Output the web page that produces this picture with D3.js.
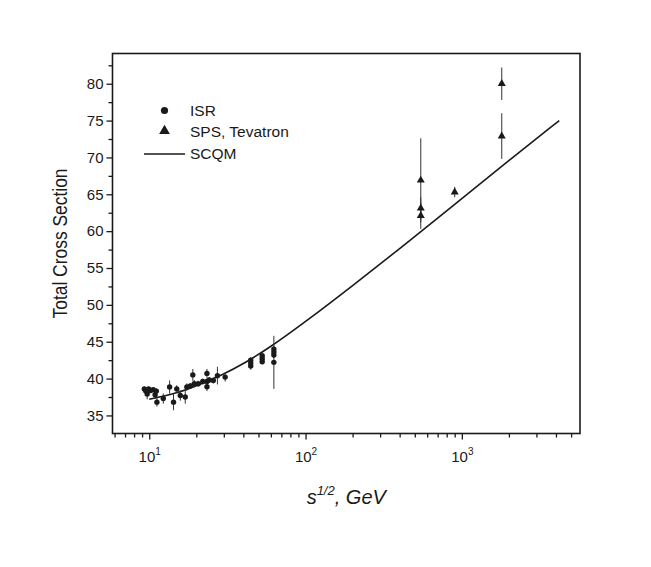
<!DOCTYPE html>
<html><head><meta charset="utf-8">
<script src="https://cdn.jsdelivr.net/npm/d3@7"></script>
<style>body{margin:0;background:#fff;} svg{display:block;font-family:"Liberation Sans",Arial,sans-serif;}</style>
</head><body>
<script>
// ISR data: [sqrt(s) GeV, sigma, error]
const isrData = [
  [9.3,38.6,0.3],[9.5,38.3,0.4],[9.7,37.9,0.7],[9.9,38.6,0.3],[10.2,38.4,0.4],
  [10.6,38.5,0.3],[10.9,37.8,0.5],[11.1,38.3,0.4],[11.2,36.8,0.6],[12.3,37.3,0.7],
  [13.5,38.85,0.9],[14.3,36.8,1.1],[15.0,38.6,0.5],[15.8,37.7,0.7],[17.0,37.5,0.9],
  [17.4,38.85,0.5],[18.3,39.0,0.4],[19.0,40.5,0.8],[19.4,39.3,0.5],[20.6,39.3,0.4],
  [22.0,39.6,0.4],[23.4,40.7,0.6],[23.4,39.6,0.4],[23.4,38.9,0.6],[24.2,39.8,0.4],
  [25.7,39.75,0.4],[27.3,40.4,1.2],[30.6,40.2,0.6],
  [44.6,41.7,0.5],[44.6,42.1,0.4],[44.6,42.5,0.4],
  [52.8,42.3,0.4],[52.8,42.7,0.4],[52.8,43.1,0.4],
  [62.7,42.2,3.6],[62.7,43.2,0.4],[62.7,43.6,0.4],[62.7,44.0,0.4]
];
// SPS, Tevatron data: [sqrt(s) GeV, sigma, error]
const spsData = [
  [546,66.9,5.7],[546,63.1,1.5],[546,62.1,1.8],
  [900,65.3,0.7],
  [1800,80.0,2.2],[1800,72.9,3.1]
];
// SCQM curve
const scqmE     = [10, 15, 20, 30, 40, 60, 100, 200, 400, 1000, 2000, 4200];
const scqmSigma = [37.2, 38.0, 39.0, 40.6, 42.0, 44.3, 47.7, 52.6, 57.6, 64.4, 69.6, 75.0];

const yTicksMajor = [35,40,45,50,55,60,65,70,75,80];
const yTicksMinor = [37.5,42.5,47.5,52.5,57.5,62.5,67.5,72.5,77.5,82.5];
const xTicksMajor = [10,100,1000];
const xTickExp = ["1","2","3"];
const xTicksMinor = [6,7,8,9,20,30,40,50,60,70,80,90,200,300,400,500,600,700,800,900,2000,3000,4000,5000];
const legendLabels = ["ISR","SPS, Tevatron","SCQM"];

const W=651,H=567;
const m={left:112.5,right:580,top:53.5,bottom:433.5};
const svg=d3.select("body").append("svg").attr("width",W).attr("height",H);
const x=d3.scaleLog().domain([5.82,5700]).range([m.left,m.right]);
const y=d3.scaleLinear().domain([32.55,84.1]).range([m.bottom,m.top]);
const ink="#1a1a1a";

// Axes
const xAxisMaj=d3.axisBottom(x).tickValues(xTicksMajor).tickSize(6).tickFormat("");
const xAxisMin=d3.axisBottom(x).tickValues(xTicksMinor).tickSize(4).tickFormat("");
const yAxisMaj=d3.axisLeft(y).tickValues(yTicksMajor).tickSize(6).tickPadding(3).tickFormat(d3.format("d"));
const yAxisMin=d3.axisLeft(y).tickValues(yTicksMinor).tickSize(4).tickFormat("");
function styleAx(g){g.select(".domain").remove();g.selectAll("line").attr("stroke",ink).attr("stroke-width",1.3);
  g.selectAll("text").attr("fill",ink).style("font-size","15px").style("font-family","Liberation Sans, Arial, sans-serif");}
svg.append("g").attr("transform",`translate(0,${m.bottom})`).call(xAxisMaj).call(styleAx);
svg.append("g").attr("transform",`translate(0,${m.bottom})`).call(xAxisMin).call(styleAx);
svg.append("g").attr("transform",`translate(${m.left},0)`).call(yAxisMaj).call(styleAx);
svg.append("g").attr("transform",`translate(${m.left},0)`).call(yAxisMin).call(styleAx);

// x tick labels with superscripts
xTicksMajor.forEach((v,i)=>{
  const t=svg.append("text").attr("x",x(v)+0.5).attr("y",m.bottom+28).attr("text-anchor","middle")
    .attr("fill",ink).style("font-size","15px");
  t.append("tspan").text("10");
  t.append("tspan").attr("dy",-7).style("font-size","10px").text(xTickExp[i]);
});

// frame
svg.append("rect").attr("x",m.left).attr("y",m.top).attr("width",m.right-m.left).attr("height",m.bottom-m.top)
  .attr("fill","none").attr("stroke",ink).attr("stroke-width",1.6);

// SCQM curve
const line=d3.line().x(d=>x(d[0])).y(d=>y(d[1])).curve(d3.curveBasis);
svg.append("path").datum(scqmE.map((e,i)=>[e,scqmSigma[i]])).attr("d",line)
  .attr("fill","none").attr("stroke",ink).attr("stroke-width",1.6);

// error bars
const allPts=isrData.concat(spsData);
svg.append("g").selectAll("line").data(allPts).join("line")
  .attr("x1",d=>x(d[0])).attr("x2",d=>x(d[0]))
  .attr("y1",d=>y(d[1]-d[2])).attr("y2",d=>y(d[1]+d[2]))
  .attr("stroke","#333").attr("stroke-width",1);

// ISR circles
svg.append("g").selectAll("circle").data(isrData).join("circle")
  .attr("cx",d=>x(d[0])).attr("cy",d=>y(d[1])).attr("r",2.7).attr("fill",ink);

// triangles
const tri=d3.symbol().type(d3.symbolTriangle).size(28);
svg.append("g").selectAll("path").data(spsData).join("path")
  .attr("transform",d=>`translate(${x(d[0])},${y(d[1])})`).attr("d",tri).attr("fill",ink);

// legend
const lg=svg.append("g");
lg.append("circle").attr("cx",164.5).attr("cy",110.5).attr("r",3.6).attr("fill",ink);
lg.append("path").attr("transform","translate(164.5,131)").attr("d",d3.symbol().type(d3.symbolTriangle).size(50)).attr("fill",ink);
lg.append("line").attr("x1",144).attr("x2",185).attr("y1",154).attr("y2",154).attr("stroke",ink).attr("stroke-width",1.4);
legendLabels.forEach((t,i)=>{
  lg.append("text").attr("x",190).attr("y",[116,136.5,159][i]).attr("fill",ink).style("font-size","15.5px").text(t);
});

// axis titles
svg.append("text").attr("transform",`translate(67,${(m.top+m.bottom)/2}) rotate(-90)`).attr("text-anchor","middle")
  .attr("fill",ink).style("font-size","20px").attr("textLength",150).attr("lengthAdjust","spacingAndGlyphs")
  .text("Total Cross Section");
const xt=svg.append("text").attr("x",(m.left+m.right)/2).attr("y",504).attr("text-anchor","middle")
  .attr("fill",ink).style("font-size","20px").style("font-style","italic");
xt.append("tspan").text("s");
xt.append("tspan").attr("dy",-9).style("font-size","13px").text("1/2");
xt.append("tspan").attr("dy",9).text(", GeV");
</script>
</body></html>
